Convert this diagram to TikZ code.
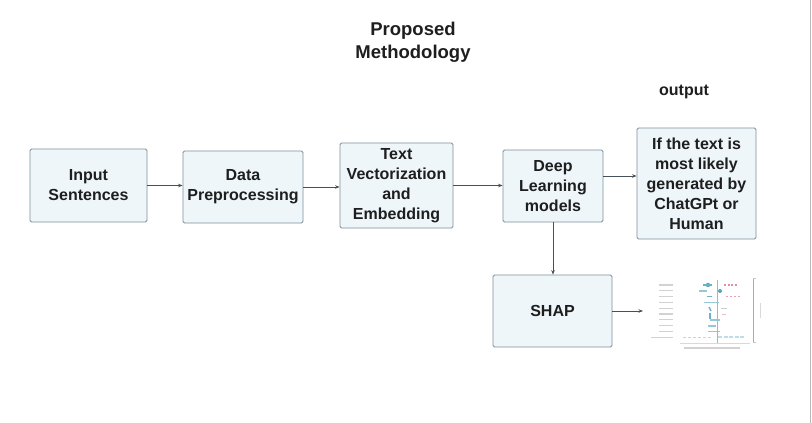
\documentclass[tikz,border=0pt]{standalone}
\usepackage{fontspec}
\setmainfont{Liberation Sans}
\usetikzlibrary{arrows.meta,calc}
\definecolor{boxfill}{HTML}{EEF6FA}
\definecolor{boxline}{HTML}{7E8E9A}
\definecolor{arrcol}{HTML}{45505A}
\definecolor{txt}{HTML}{1E1E1E}
\definecolor{shapblue}{HTML}{2E8FB0}
\definecolor{shappink}{HTML}{D0407A}
\begin{document}
\begin{tikzpicture}[x=1pt,y=-1pt,
  box/.style={draw=boxline,fill=boxfill,line width=0.8pt,rounded corners=1.5pt,
    align=center,font=\fontsize{16}{20}\selectfont\bfseries,text=txt,inner sep=0pt},
  arr/.style={draw=arrcol,line width=0.8pt,-{Stealth[length=4.5pt,width=3.5pt]}},
  lbl/.style={font=\fontsize{16}{20}\selectfont\bfseries,text=txt,align=center}]
\useasboundingbox (0,0) rectangle (812,423);
\fill[white] (0,0) rectangle (812,423);
\draw[gray!55,line width=1pt] (810,0) -- (810,423);

\node[lbl,font=\fontsize{18.5}{23}\selectfont\bfseries] (title) at (413,42) {Proposed\\Methodology};
\node[lbl] (outlbl) at (684,92) {output};

\node[box,minimum width=117,minimum height=73] (in) at (88.5,185.5) {Input\\Sentences};
\node[box,minimum width=120,minimum height=72] (prep) at (243,187) {Data\\Preprocessing};
\node[box,minimum width=113,minimum height=85] (vec) at (396.5,185.5) {Text\\Vectorization\\and\\Embedding};
\node[box,minimum width=100,minimum height=72] (dl) at (553,186) {Deep\\Learning\\models};
\node[box,minimum width=119,minimum height=111] (out) at (696.5,183.5) {If the text is\\most likely\\generated by\\ChatGPt or\\Human};
\node[box,minimum width=119,minimum height=72] (shap) at (552.5,311) {SHAP};
\coordinate (plot) at (643,311);

\draw[arr] (in.east) -- (in.east -| prep.west);
\draw[arr] (prep.east) -- (prep.east -| vec.west);
\draw[arr] (vec.east) -- (vec.east -| dl.west);
\draw[arr] ([yshift=10pt]dl.east) -- ([yshift=10pt]dl.east -| out.west);
\draw[arr] (dl.south) -- (dl.south |- shap.north);
\draw[arr] (shap.east) -- (plot);

% SHAP summary plot (small image)
\foreach \i in {0,...,9}{
  \draw[gray!35,line width=1.2pt] ({673-14-(\i==9?8:0)},{285+5.8*\i}) -- (673,{285+5.8*\i});
}
\draw[gray!60,line width=0.5pt] (717,280) -- (717,343);
\draw[gray!30,line width=0.4pt] (680,343) -- (750,343);
\draw[gray!35,line width=1.2pt] (684,348) -- (740,348);
\draw[shappink!60,line width=0.6pt] (753,278) -- (753,342);
\draw[gray!45,line width=0.5pt] (753,278) -- (756,278) (753,342) -- (756,342);
\draw[gray!30,line width=1pt] (760,303) -- (760,318);
% points
\fill[shapblue!80] (708,285) circle (2.2);
\draw[shapblue!70,line width=1.2pt] (703,285) -- (712,285);
\draw[shappink!60,line width=1.2pt,dash pattern=on 2pt off 1.5pt] (724,285) -- (737,285);
\draw[shapblue!50,line width=1.2pt] (699,291) -- (707,291);
\fill[shapblue!80] (720,291) circle (2);
\draw[shapblue!70,line width=1.5pt] (707,296.5) -- (712,296.5);
\draw[shappink!50,line width=1pt,dash pattern=on 2pt off 2pt] (726,296.5) -- (740,296.5);
\draw[shapblue!50,line width=1.2pt] (704,302.5) -- (719,302.5);
\draw[shapblue!70,line width=1.5pt] (709,307) -- (711,311);
\draw[gray!40,line width=0.8pt] (721,308) -- (727,308);
\draw[shapblue!70,line width=1.5pt] (710,313) -- (710,319);
\draw[shappink!35,line width=0.8pt] (722,314) -- (726,314);
\draw[shapblue!50,line width=1.2pt] (710,320) -- (720,320);
\draw[shapblue!50,line width=1.2pt] (708,326) -- (716,326);
\draw[shapblue!50,line width=1.2pt] (708,331.5) -- (720,331.5);
\draw[gray!35,line width=0.8pt,dash pattern=on 3pt off 2pt] (683,337) -- (712,337);
\draw[shapblue!30,line width=1.2pt,dash pattern=on 4pt off 1.5pt] (718,337) -- (745,337);
\end{tikzpicture}
\end{document}
